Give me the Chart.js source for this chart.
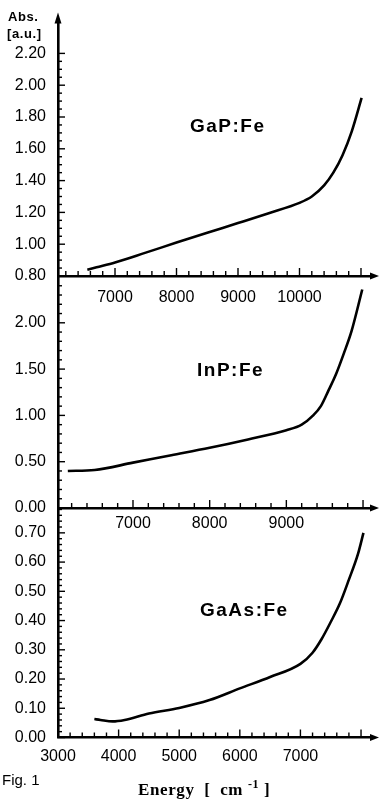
<!DOCTYPE html>
<html><head><meta charset="utf-8">
<script src="https://cdn.jsdelivr.net/npm/chart.js@4.4.1/dist/chart.umd.min.js"></script>
<style>
html,body{margin:0;padding:0;background:#fff;width:380px;height:802px;overflow:hidden;}
canvas{position:absolute;left:0;top:0;}
.t{position:absolute;color:#000;white-space:nowrap;line-height:1;}
.lab{font-family:"Liberation Sans",Arial,sans-serif;font-weight:bold;font-size:19px;letter-spacing:1.5px;}
</style></head><body>
<canvas id="c1" width="380" height="802"></canvas>
<canvas id="c2" width="380" height="802"></canvas>
<canvas id="c3" width="380" height="802"></canvas>
<div class="t" style="left:8px;top:10px;font-family:'Liberation Sans',Arial,sans-serif;font-weight:bold;font-size:13px;letter-spacing:0.6px;">Abs.</div>
<div class="t" style="left:7px;top:27px;font-family:'Liberation Sans',Arial,sans-serif;font-weight:bold;font-size:13px;letter-spacing:0.6px;">[a.u.]</div>
<div class="t lab" style="left:190px;top:116px;">GaP:Fe</div>
<div class="t lab" style="left:197px;top:360px;">InP:Fe</div>
<div class="t lab" style="left:200px;top:600px;">GaAs:Fe</div>
<div class="t" style="left:2px;top:772px;font-family:'Liberation Sans',Arial,sans-serif;font-size:15px;">Fig. 1</div>
<div class="t" style="left:138px;top:781px;font-family:'Liberation Serif','Times New Roman',serif;font-weight:bold;font-size:17px;letter-spacing:0.6px;">Energy&nbsp; [&nbsp; cm <sup style="font-size:12px;vertical-align:7px;line-height:0">-1</sup>&nbsp;]</div>
<script>
// ---- data ----
const gapEnergy = [6550, 6700, 7000, 7500, 8000, 8500, 9000, 9500, 10000, 10200, 10400, 10550, 10700, 10850, 11010];
const gapAbs    = [0.84, 0.855, 0.885, 0.947, 1.01, 1.072, 1.133, 1.195, 1.26, 1.30, 1.37, 1.45, 1.56, 1.71, 1.92];

const inpEnergy = [6150, 6500, 7000, 7500, 8000, 8500, 9000, 9200, 9350, 9450, 9550, 9650, 9750, 9850, 9990];
const inpAbs    = [0.40, 0.41, 0.49, 0.57, 0.65, 0.74, 0.84, 0.90, 1.00, 1.10, 1.27, 1.45, 1.67, 1.91, 2.36];

const gaasEnergy = [3600, 3700, 3900, 4100, 4500, 5000, 5500, 6000, 6500, 7000, 7200, 7350, 7500, 7650, 7800, 7950, 8040];
const gaasAbs    = [0.063, 0.060, 0.055, 0.060, 0.082, 0.101, 0.128, 0.168, 0.207, 0.252, 0.29, 0.337, 0.395, 0.458, 0.54, 0.628, 0.70];

// tick labels
const gapXTicks  = [7000, 8000, 9000, 10000];
const gapYTicks  = [0.80, 1.00, 1.20, 1.40, 1.60, 1.80, 2.00, 2.20];
const inpXTicks  = [7000, 8000, 9000];
const inpYTicks  = [0.00, 0.50, 1.00, 1.50, 2.00];
const gaasXTicks = [3000, 4000, 5000, 6000, 7000];
const gaasYTicks = [0.00, 0.10, 0.20, 0.30, 0.40, 0.50, 0.60, 0.70];

const tickFont = {family: "'Liberation Sans', Arial, sans-serif", size: 16};

const axisDeco = {
  id: 'axisDeco',
  afterDraw(chart, args, o) {
    const {ctx, chartArea: a, scales: {x, y}} = chart;
    ctx.save();
    ctx.strokeStyle = '#000';
    ctx.fillStyle = '#000';
    ctx.lineWidth = 1.4;
    const ny = Math.round((o.yTo - y.min) / o.yMinor);
    for (let i = 0; i <= ny; i++) {
      const v = y.min + i * o.yMinor;
      const r = v / o.yMajor;
      const major = Math.abs(r - Math.round(r)) < 1e-6;
      const py = y.getPixelForValue(v);
      ctx.beginPath(); ctx.moveTo(a.left, py); ctx.lineTo(a.left + (major ? 7 : 4), py); ctx.stroke();
    }
    const start = Math.ceil(x.min / 200) * 200;
    for (let v = start; v <= x.max; v += 200) {
      const px = x.getPixelForValue(v);
      const major = v % 1000 === 0;
      ctx.beginPath(); ctx.moveTo(px, a.bottom); ctx.lineTo(px, a.bottom - (major ? 8 : 5)); ctx.stroke();
    }
    ctx.lineWidth = 2.4;
    ctx.beginPath(); ctx.moveTo(a.right, a.bottom); ctx.lineTo(a.right + 2, a.bottom); ctx.stroke();
    ctx.beginPath();
    ctx.moveTo(a.right + 7, a.bottom);
    ctx.lineTo(a.right - 2, a.bottom - 3.5);
    ctx.lineTo(a.right - 2, a.bottom + 3.5);
    ctx.closePath(); ctx.fill();
    if (o.yArrow) {
      ctx.beginPath(); ctx.moveTo(a.left, a.top + 1); ctx.lineTo(a.left, a.top - 3); ctx.stroke();
      ctx.beginPath();
      ctx.moveTo(a.left, a.top - 9);
      ctx.lineTo(a.left - 3.5, a.top + 2);
      ctx.lineTo(a.left + 3.5, a.top + 2);
      ctx.closePath(); ctx.fill();
    }
    ctx.restore();
  }
};

function makePanel(id, xs, ys, cfg) {
  const pts = xs.map((e, i) => ({x: e, y: ys[i]}));
  const H = 802, XH = 30;
  return new Chart(document.getElementById(id), {
    type: 'line',
    data: {datasets: [{data: pts, borderColor: '#000', borderWidth: 2.6, pointRadius: 0,
      fill: false, cubicInterpolationMode: 'monotone'}]},
    options: {
      responsive: false, animation: false, events: [],
      layout: {padding: {left: 0, right: 8, top: cfg.top, bottom: H - cfg.bottom - XH}},
      plugins: {legend: {display: false}, tooltip: {enabled: false}, axisDeco: cfg.deco},
      scales: {
        x: {
          type: 'linear', min: cfg.xMin, max: cfg.xMax,
          afterFit(s) { s.height = XH; },
          afterBuildTicks(s) { s.ticks = cfg.xTicks.map(v => ({value: v})); },
          grid: {display: false, drawTicks: false},
          border: {display: true, color: '#000', width: 2.6},
          ticks: {color: '#000', font: tickFont, padding: cfg.xPad, autoSkip: false, maxRotation: 0,
            callback: v => String(v)}
        },
        y: {
          type: 'linear', min: cfg.yMin, max: cfg.yMax,
          afterFit(s) { s.width = 58; },
          afterBuildTicks(s) { s.ticks = cfg.yTicks.map(v => ({value: v})); },
          grid: {display: false, drawTicks: false},
          border: {display: true, color: '#000', width: 2.6},
          ticks: {color: '#000', font: tickFont, padding: 12, callback: v => Number(v).toFixed(2)}
        }
      }
    },
    plugins: [axisDeco]
  });
}

makePanel('c1', gapEnergy, gapAbs, {
  xMin: 6073, xMax: 11179, yMin: 0.80, yMax: 2.40, top: 20.8, bottom: 276, xPad: 12,
  xTicks: gapXTicks, yTicks: gapYTicks,
  deco: {yTo: 2.20, yMinor: 0.05, yMajor: 0.20, yArrow: true}
});
makePanel('c2', inpEnergy, inpAbs, {
  xMin: 6022, xMax: 10117, yMin: 0, yMax: 2.50, top: 276.5, bottom: 508, xPad: 6,
  xTicks: inpXTicks, yTicks: inpYTicks,
  deco: {yTo: 2.40, yMinor: 0.10, yMajor: 0.50, yArrow: false}
});
makePanel('c3', gaasEnergy, gaasAbs, {
  xMin: 3000, xMax: 8181, yMin: 0, yMax: 0.785, top: 508, bottom: 737.5, xPad: 9,
  xTicks: gaasXTicks, yTicks: gaasYTicks,
  deco: {yTo: 0.78, yMinor: 0.02, yMajor: 0.10, yArrow: false}
});
</script>
</body></html>
